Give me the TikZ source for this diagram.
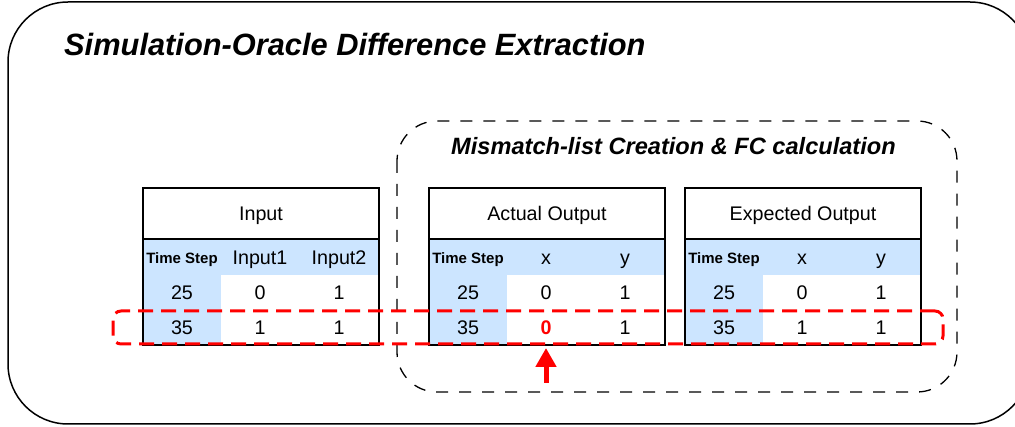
\documentclass[tikz,border=0pt]{standalone}
\usepackage{fontspec}
\setmainfont{Liberation Sans}
\usetikzlibrary{arrows.meta}
\definecolor{tblblue}{HTML}{CCE5FF}
\definecolor{mmred}{HTML}{FF0000}
\tikzset{
  cell/.style={inner sep=0pt, text height=13.9pt, text depth=0pt, font=\fontsize{19.7}{22}\selectfont},
  tscell/.style={inner sep=0pt, text height=10.7pt, text depth=0pt, font=\fontsize{15}{18}\selectfont\bfseries},
  tblline/.style={draw=black, line width=1.5pt},
  outerbox/.style={draw=black, line width=1.5pt, rounded corners=60pt},
  innerbox/.style={draw=black, line width=1.3pt, dash pattern=on 12pt off 11pt, rounded corners=40pt},
  mismatch/.style={draw=mmred, line width=3pt, dash pattern=on 15pt off 8pt, rounded corners=8pt, minimum width=830pt, minimum height=33pt, inner sep=0pt},
  redarrow/.style={draw=mmred, line width=5pt, -{Triangle[width=20pt,length=19pt]}},
  titletext/.style={inner sep=0pt, anchor=base west, font=\fontsize{30.8}{36}\selectfont\bfseries\itshape},
  subtitletext/.style={inner sep=0pt, anchor=base west, font=\fontsize{23.6}{28}\selectfont\bfseries\itshape},
}
% #1 name, #2 left x, #3 title, #4 col2, #5 col3, #6 r1c2, #7 r1c3, #8 r2c2, #9 r2c3
\newcommand{\mytable}[9]{%
  \fill[tblblue] (#2,239) rectangle ++(236,36);
  \fill[tblblue] (#2,275) rectangle ++(78,70);
  \draw[tblline] (#2,188) rectangle ++(236,157);
  \draw[tblline] (#2,239) -- ++(236,0);
  \node[cell] (#1-title) at (#2+118,214) {#3};
  \node[tscell] (#1-ts) at (#2+39,258.5) {Time Step};
  \node[cell] (#1-c2) at (#2+117,258) {#4};
  \node[cell] (#1-c3) at (#2+196,258) {#5};
  \node[cell] (#1-r1c1) at (#2+39,293) {25};
  \node[cell] (#1-r1c2) at (#2+117,293) {#6};
  \node[cell] (#1-r1c3) at (#2+196,293) {#7};
  \node[cell] (#1-r2c1) at (#2+39,327.5) {35};
  \node[cell] (#1-r2c2) at (#2+117,327.5) {#8};
  \node[cell] (#1-r2c3) at (#2+196,327.5) {#9};
}
\begin{document}
\begin{tikzpicture}[x=1pt,y=-1pt]
  \useasboundingbox (0,0) rectangle (1015,427);
  \clip (0,0) rectangle (1015,427);
  \draw[outerbox] (8,2) rectangle (1030,424);
  \node[titletext] (title) at (64,56) {Simulation-Oracle Difference Extraction};
  \draw[innerbox] (397,121) rectangle (957,392);
  \node[subtitletext] (subtitle) at (451,155) {Mismatch-list Creation \& FC calculation};
  \mytable{in}{143}{Input}{Input1}{Input2}{0}{1}{1}{1}
  \mytable{act}{429}{Actual Output}{x}{y}{0}{1}{\textcolor{mmred}{\bfseries 0}}{1}
  \mytable{exp}{685}{Expected Output}{x}{y}{0}{1}{1}{1}
  \node[mismatch] (mm) at (528,327.5) {};
  \coordinate (arrowbase) at (546,383);
  \draw[redarrow] (arrowbase) -- (act-r2c2.south |- 0,348);
\end{tikzpicture}
\end{document}
